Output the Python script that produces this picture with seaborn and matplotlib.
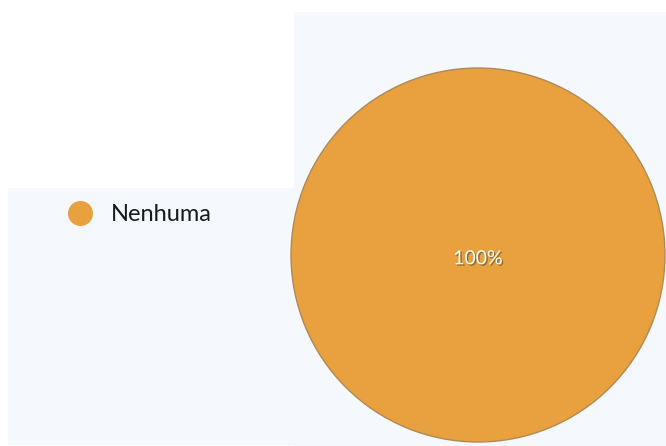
import matplotlib
matplotlib.use("Agg")
import matplotlib.pyplot as plt
import matplotlib.patheffects as pe
from matplotlib.lines import Line2D
from matplotlib.patches import Rectangle
import seaborn as sns

categorias = ["Nenhuma"]
valores = [100]
cores = ["#E9A03F"]

sns.set_theme(style="white")
plt.rcParams['font.family'] = ['Lato', 'DejaVu Sans']

fig = plt.figure(figsize=(6.66, 4.46), dpi=100)
fig.patch.set_facecolor("white")

# fundos azulados
fundo = "#F5F9FD"
fig.patches.append(Rectangle((294/666, 0), 1 - 294/666, 1 - 12/446, transform=fig.transFigure,
                             facecolor=fundo, edgecolor="none", zorder=-2))
fig.patches.append(Rectangle((8/666, 1/446), 286/666, (446 - 188 - 1)/446, transform=fig.transFigure,
                             facecolor=fundo, edgecolor="none", zorder=-2))

ax = fig.add_axes([291/666, 4/446, 374/666, 374/446])
ax.set_facecolor("none")
wedges, textos, autotextos = ax.pie(
    valores, colors=cores, startangle=90, counterclock=False,
    autopct="%d%%", pctdistance=0.0,
    wedgeprops=dict(edgecolor="#B08A55", linewidth=1.0),
    textprops=dict(color="white", fontsize=14))
for t in autotextos:
    t.set_path_effects([pe.withSimplePatchShadow(offset=(1, -1), shadow_rgbFace="#7a5a2a", alpha=0.8)])
    t.set_y(-0.02)
ax.set_xlim(-1.0, 1.0)
ax.set_ylim(-1.0, 1.0)
ax.axis("off")

handles = [Line2D([], [], marker="o", linestyle="none", markersize=17,
                  markerfacecolor=c, markeredgecolor=c) for c in cores]
fig.legend(handles, categorias, loc="center left", bbox_to_anchor=(47/666, 1 - 215/446),
           frameon=False, fontsize=17, handletextpad=0.3, borderaxespad=0,
           labelcolor="#1a1a1a")

fig.savefig("out.png", dpi=100, facecolor=fig.get_facecolor())
